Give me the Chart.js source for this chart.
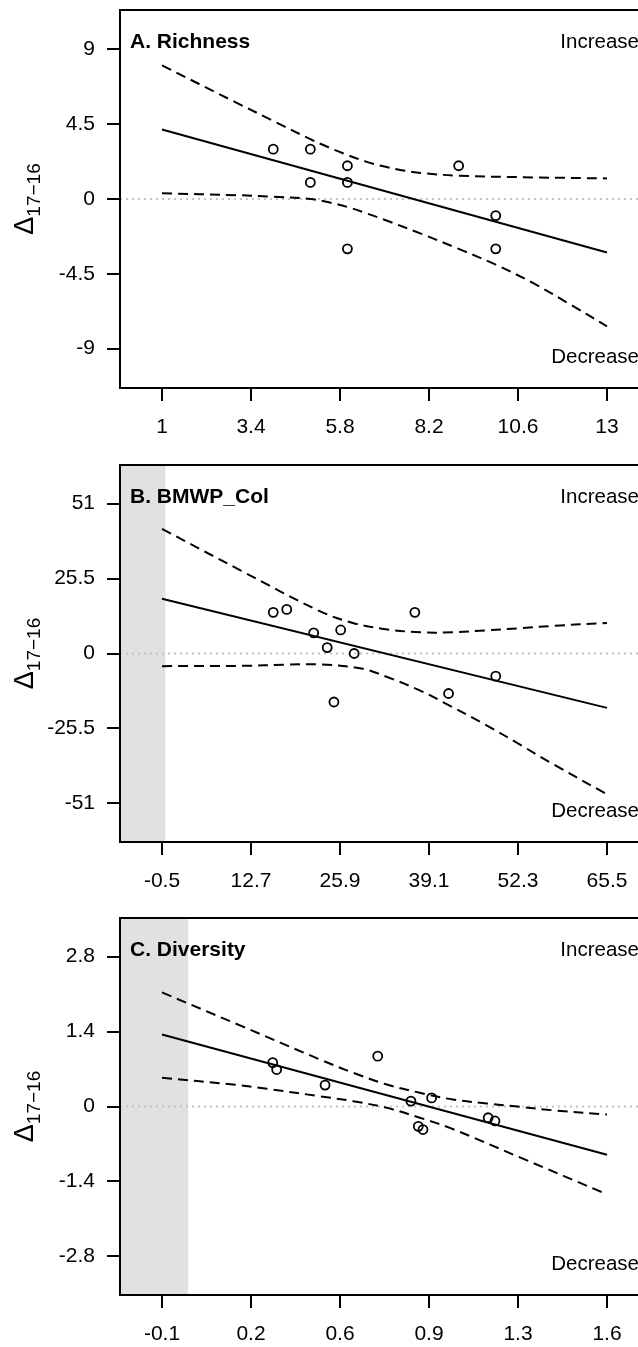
<!DOCTYPE html>
<html><head><meta charset="utf-8">
<script src="https://cdn.jsdelivr.net/npm/chart.js@4.4.1/dist/chart.umd.min.js"></script>
<style>
html,body{margin:0;padding:0;background:#fff;overflow:hidden;width:638px;height:1347px;position:relative;}
canvas{position:absolute;left:0;}
</style></head><body>
<canvas id="cA" width="660" height="454" style="top:0px"></canvas>
<canvas id="cB" width="660" height="454" style="top:455px"></canvas>
<canvas id="cC" width="660" height="454" style="top:908px"></canvas>
<script>
// ---------- A. Richness ----------
const richnessX = [4, 5, 5, 6, 6, 6, 9, 10, 10];
const richnessY = [3, 3, 1, 2, 1, -3, 2, -1, -3];
const richnessFitX = [1, 13];
const richnessFitY = [4.18, -3.22];
const richnessUpperX = [1, 3, 4, 5, 5.5, 6, 6.5, 7, 7.5, 8, 9, 11, 13];
const richnessUpperY = [8.04, 5.8, 4.7, 3.6, 3.1, 2.65, 2.25, 1.95, 1.72, 1.56, 1.4, 1.3, 1.24];
const richnessLowerX = [1, 3, 4, 5, 5.5, 6, 6.5, 7, 8, 9, 10, 11, 12, 13];
const richnessLowerY = [0.34, 0.23, 0.14, 0.0, -0.2, -0.48, -0.85, -1.25, -2.1, -3.0, -3.95, -5.05, -6.33, -7.66];
const richnessXTicks = [1, 3.4, 5.8, 8.2, 10.6, 13];
const richnessXLabels = ['1', '3.4', '5.8', '8.2', '10.6', '13'];
const richnessYTicks = [-9, -4.5, 0, 4.5, 9];
const richnessYLabels = ['-9', '-4.5', '0', '4.5', '9'];
const richnessXRange = [-0.133, 14.133];
const richnessYRange = [-11.37, 11.37];

// ---------- B. BMWP_Col ----------
const bmwpX = [16, 18, 22, 24, 26, 28, 37, 25, 42, 49];
const bmwpY = [14, 15, 7, 2, 8, 0, 14, -16.5, -13.6, -7.7];
const bmwpFitX = [-0.5, 65.5];
const bmwpFitY = [18.6, -18.5];
const bmwpUpperX = [-0.5, 11.2, 22.9, 27.8, 32.9, 37.8, 42.7, 47.7, 52.6, 57.5, 65.5];
const bmwpUpperY = [42.4, 28.2, 14.4, 10.4, 8.2, 7.2, 7.2, 7.9, 8.6, 9.4, 10.4];
const bmwpLowerX = [-0.5, 11.2, 18, 22.9, 29.3, 32.9, 37.8, 41.8, 47.7, 52.6, 57.5, 65.5];
const bmwpLowerY = [-4.3, -4.2, -3.8, -3.7, -5.2, -8.0, -12.6, -17.3, -24.5, -31.0, -37.6, -47.9];
const bmwpXTicks = [-0.5, 12.7, 25.9, 39.1, 52.3, 65.5];
const bmwpXLabels = ['-0.5', '12.7', '25.9', '39.1', '52.3', '65.5'];
const bmwpYTicks = [-51, -25.5, 0, 25.5, 51];
const bmwpYLabels = ['-51', '-25.5', '0', '25.5', '51'];
const bmwpXRange = [-6.73, 71.73];
const bmwpYRange = [-64.1, 64.1];

// ---------- C. Diversity ----------
const diversityX = [0.323, 0.338, 0.523, 0.724, 0.851, 0.930, 0.879, 0.897, 1.146, 1.172];
const diversityY = [0.82, 0.69, 0.40, 0.94, 0.10, 0.16, -0.37, -0.43, -0.21, -0.27];
const diversityFitX = [-0.1, 1.6];
const diversityFitY = [1.344, -0.90];
const diversityUpperX = [-0.1, 0.2, 0.504, 0.63, 0.759, 0.885, 1.011, 1.141, 1.267, 1.393, 1.6];
const diversityUpperY = [2.13, 1.51, 0.877, 0.63, 0.41, 0.256, 0.13, 0.056, -0.006, -0.07, -0.15];
const diversityLowerX = [-0.1, 0.171, 0.301, 0.504, 0.63, 0.759, 0.885, 1.0, 1.267, 1.6];
const diversityLowerY = [0.535, 0.41, 0.33, 0.19, 0.099, -0.025, -0.21, -0.4, -0.95, -1.64];
const diversityXTicks = [-0.1, 0.24, 0.58, 0.92, 1.26, 1.6];
const diversityXLabels = ['-0.1', '0.2', '0.6', '0.9', '1.3', '1.6'];
const diversityYTicks = [-2.8, -1.4, 0, 1.4, 2.8];
const diversityYLabels = ['-2.8', '-1.4', '0', '1.4', '2.8'];
const diversityXRange = [-0.2604, 1.7604];
const diversityYRange = [-3.52, 3.52];

const FONT = '"Liberation Sans", Arial, Helvetica, sans-serif';

function pairs(xs, ys) { return xs.map((x, i) => ({x: x, y: ys[i]})); }

const bandPlugin = {
  id: 'band',
  beforeDatasetsDraw(chart, args, o) {
    if (o.max === null || o.max === undefined) return;
    const {ctx, chartArea: a, scales: {x}} = chart;
    const px = x.getPixelForValue(o.max);
    ctx.save();
    ctx.fillStyle = '#e1e1e1';
    ctx.fillRect(a.left, a.top, px - a.left, a.bottom - a.top);
    ctx.restore();
  }
};

const decorPlugin = {
  id: 'decor',
  afterDraw(chart, args, o) {
    const {ctx, chartArea: a} = chart;
    ctx.save();
    ctx.strokeStyle = '#000';
    ctx.lineWidth = 2;
    ctx.strokeRect(a.left, a.top, a.right - a.left, a.bottom - a.top);
    ctx.fillStyle = '#000';
    ctx.textBaseline = 'alphabetic';
    ctx.font = 'bold 21px ' + FONT;
    ctx.textAlign = 'left';
    ctx.fillText(o.title, a.left + 10, a.top + 38);
    ctx.font = '20.5px ' + FONT;
    ctx.textAlign = 'right';
    ctx.fillText('Increase', a.right - 10, a.top + 38);
    ctx.fillText('Decrease', a.right - 10, a.bottom - 25);
    // rotated y title: Δ with subscript 17−16
    const cy = (a.top + a.bottom) / 2;
    ctx.font = '27px ' + FONT;
    const w1 = ctx.measureText('Δ').width;
    ctx.font = '19px ' + FONT;
    const w2 = ctx.measureText('17−16').width;
    const start = cy + (w1 + w2) / 2;
    ctx.translate(0, start);
    ctx.rotate(-Math.PI / 2);
    ctx.textAlign = 'left';
    ctx.font = '27px ' + FONT;
    ctx.fillText('Δ', 0, 33);
    ctx.font = '19px ' + FONT;
    ctx.fillText('17−16', w1, 40);
    ctx.restore();
  }
};

function zeroPad(s) { s.paddingTop = 0; s.paddingBottom = 0; s.paddingLeft = 0; s.paddingRight = 0; }

function makeChart(id, p) {
  const plotH = p.plotH;
  new Chart(document.getElementById(id), {
    type: 'scatter',
    data: {
      datasets: [
        {data: pairs(p.px, p.py), showLine: false, pointRadius: 4.5, pointBorderWidth: 1.8,
         pointBorderColor: '#000', pointBackgroundColor: 'rgba(0,0,0,0)', order: 0},
        {data: pairs(p.fx, p.fy), showLine: true, borderColor: '#000', borderWidth: 2,
         pointRadius: 0, order: 1},
        {data: pairs(p.ux, p.uy), showLine: true, borderColor: '#000', borderWidth: 2,
         borderDash: [10, 6], pointRadius: 0, tension: 0.35, order: 2},
        {data: pairs(p.lx, p.ly), showLine: true, borderColor: '#000', borderWidth: 2,
         borderDash: [10, 6], pointRadius: 0, tension: 0.35, order: 2},
        {data: [{x: p.xr[0], y: 0}, {x: p.xr[1], y: 0}], showLine: true, borderColor: '#c4c4c4',
         borderWidth: 2, borderDash: [2, 4], pointRadius: 0, order: 3}
      ]
    },
    options: {
      responsive: false,
      animation: false,
      events: [],
      layout: {padding: {top: 10, right: 11, left: 0, bottom: 0}},
      plugins: {
        legend: {display: false},
        tooltip: {enabled: false},
        band: {max: p.band},
        decor: {title: p.title}
      },
      scales: {
        x: {
          type: 'linear', min: p.xr[0], max: p.xr[1],
          afterBuildTicks: (s) => { s.ticks = p.xt.map(v => ({value: v})); },
          afterFit: (s) => { s.height = 454 - 10 - plotH; zeroPad(s); },
          ticks: {autoSkip: false, maxRotation: 0, padding: 14, color: '#000',
                  font: {family: FONT, size: 21},
                  callback: (v, i) => p.xl[i]},
          grid: {drawOnChartArea: false, drawTicks: true, tickLength: 13, color: '#000', lineWidth: 2},
          border: {display: false}
        },
        y: {
          type: 'linear', min: p.yr[0], max: p.yr[1],
          afterBuildTicks: (s) => { s.ticks = p.yt.map(v => ({value: v})); },
          afterFit: (s) => { s.width = 120; zeroPad(s); },
          ticks: {autoSkip: false, padding: 12, color: '#000',
                  font: {family: FONT, size: 21},
                  callback: (v, i) => p.yl[i]},
          grid: {drawOnChartArea: false, drawTicks: true, tickLength: 13, color: '#000', lineWidth: 2},
          border: {display: false}
        }
      }
    },
    plugins: [bandPlugin, decorPlugin]
  });
}

makeChart('cA', {title: 'A. Richness', plotH: 378, band: null,
  px: richnessX, py: richnessY, fx: richnessFitX, fy: richnessFitY,
  ux: richnessUpperX, uy: richnessUpperY, lx: richnessLowerX, ly: richnessLowerY,
  xt: richnessXTicks, xl: richnessXLabels, yt: richnessYTicks, yl: richnessYLabels,
  xr: richnessXRange, yr: richnessYRange});
makeChart('cB', {title: 'B. BMWP_Col', plotH: 377, band: 0,
  px: bmwpX, py: bmwpY, fx: bmwpFitX, fy: bmwpFitY,
  ux: bmwpUpperX, uy: bmwpUpperY, lx: bmwpLowerX, ly: bmwpLowerY,
  xt: bmwpXTicks, xl: bmwpXLabels, yt: bmwpYTicks, yl: bmwpYLabels,
  xr: bmwpXRange, yr: bmwpYRange});
makeChart('cC', {title: 'C. Diversity', plotH: 377, band: 0,
  px: diversityX, py: diversityY, fx: diversityFitX, fy: diversityFitY,
  ux: diversityUpperX, uy: diversityUpperY, lx: diversityLowerX, ly: diversityLowerY,
  xt: diversityXTicks, xl: diversityXLabels, yt: diversityYTicks, yl: diversityYLabels,
  xr: diversityXRange, yr: diversityYRange});
</script>
</body></html>
